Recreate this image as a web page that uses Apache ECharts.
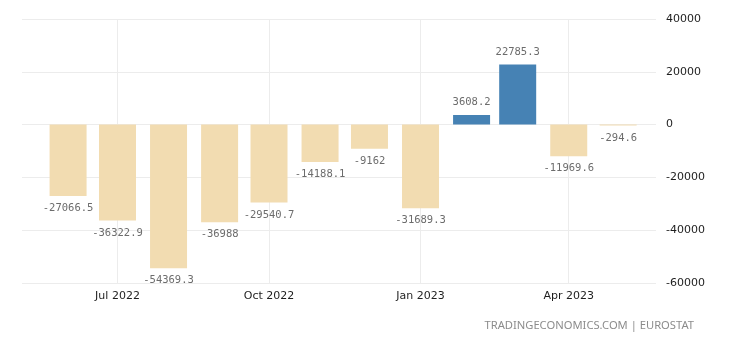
<!DOCTYPE html>
<html>
<head>
<meta charset="utf-8">
<script src="https://cdn.jsdelivr.net/npm/echarts@6/dist/echarts.min.js"></script>
<style>
  html, body { margin: 0; padding: 0; background: #ffffff; }
  #chart { width: 740px; height: 345px; }
</style>
</head>
<body>
<div id="chart"></div>
<script>
// Monthly balance, Jun 2022 – May 2023
const months = ['2022-06-01', '2022-07-01', '2022-08-01', '2022-09-01', '2022-10-01', '2022-11-01',
                '2022-12-01', '2023-01-01', '2023-02-01', '2023-03-01', '2023-04-01', '2023-05-01'];
const values = [-27066.5, -36322.9, -54369.3, -36988, -29540.7, -14188.1,
                -9162, -31689.3, 3608.2, 22785.3, -11969.6, -294.6];
const monthNames = ['Jan', 'Feb', 'Mar', 'Apr', 'May', 'Jun', 'Jul', 'Aug', 'Sep', 'Oct', 'Nov', 'Dec'];
const yTicks = [-60000, -40000, -20000, 0, 20000, 40000];

const POS_COLOR = '#4682b4';
const NEG_COLOR = '#f2dcb1';
const DAY = 24 * 3600 * 1000;

// ECharts pads a time axis by half a bar on each side when bars sit on it,
// so the requested range is trimmed by that amount to keep the visible span
// at roughly 4 May 2022 – 24 May 2023.
const xMin = new Date(2022, 4, 15, 6).getTime();
const xMax = new Date(2023, 4, 12, 18).getTime();

const barData = months.map((m, i) => ({
  value: [m, values[i]],
  itemStyle: { color: values[i] >= 0 ? POS_COLOR : NEG_COLOR },
  label: { position: values[i] >= 0 ? 'top' : 'bottom' }
}));

const chart = echarts.init(document.getElementById('chart'), null, { renderer: 'canvas' });
chart.setOption({
  animation: false,
  backgroundColor: '#ffffff',
  grid: { left: 22, right: 84, top: 19, bottom: 62 },
  xAxis: {
    type: 'time',
    min: xMin,
    max: xMax,
    minInterval: 120 * DAY,
    axisLine: { show: false },
    axisTick: { show: false },
    axisLabel: {
      showMinLabel: false,
      showMaxLabel: false,
      margin: 8,
      color: '#1e1e1e',
      fontFamily: 'DejaVu Sans',
      fontSize: 11,
      formatter: function (v) {
        const d = new Date(v);
        return monthNames[d.getMonth()] + ' ' + d.getFullYear();
      }
    },
    splitLine: { show: true, showMinLine: false, showMaxLine: false, lineStyle: { color: '#ececec', width: 1 } }
  },
  yAxis: {
    type: 'value',
    position: 'right',
    min: yTicks[0],
    max: yTicks[yTicks.length - 1],
    interval: 20000,
    axisLine: { show: false },
    axisTick: { show: false },
    axisLabel: {
      margin: 10, color: '#1e1e1e', fontFamily: 'DejaVu Sans', fontSize: 11,
      formatter: v => String(v)
    },
    splitLine: { lineStyle: { color: '#ececec', width: 1 } }
  },
  series: [{
    type: 'bar',
    barWidth: 37,
    data: barData,
    label: {
      show: true,
      distance: 7,
      color: '#6c6c6c',
      fontFamily: 'DejaVu Sans Mono',
      fontSize: 10.5,
      formatter: p => String(p.value[1])
    }
  }],
  graphic: [{
    type: 'text',
    right: 46,
    top: 320,
    style: {
      text: 'TRADINGECONOMICS.COM | EUROSTAT',
      fill: '#8c8c8c',
      font: '11.2px "Noto Sans"'
    }
  }]
});
</script>
</body>
</html>
